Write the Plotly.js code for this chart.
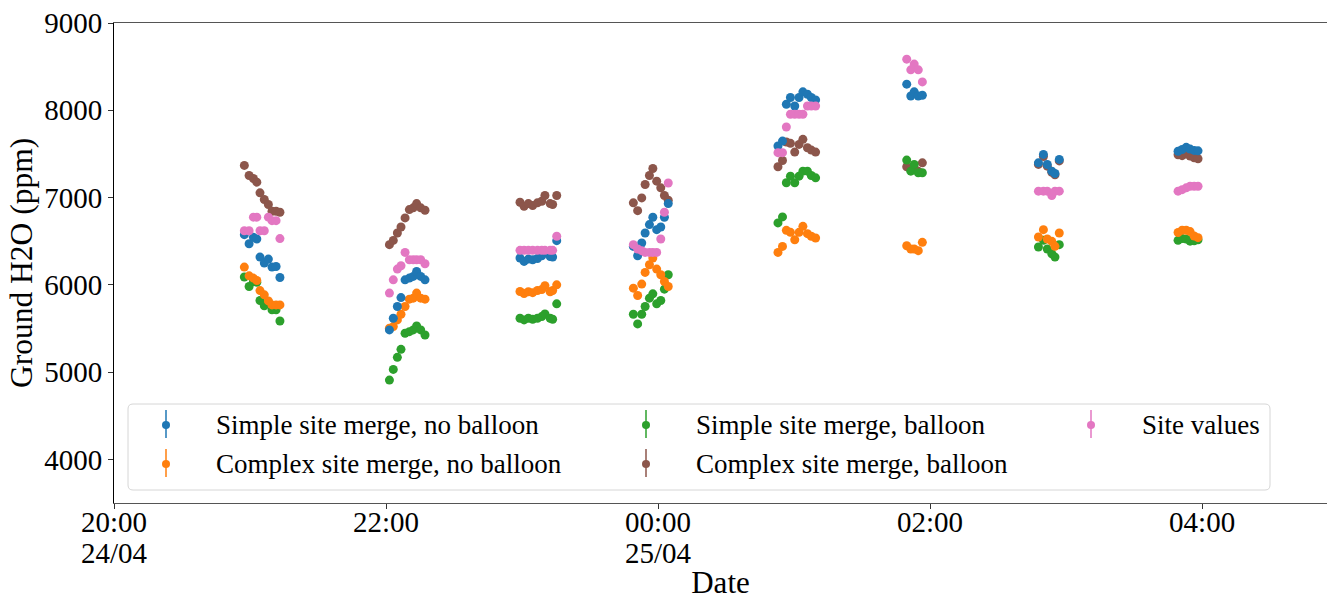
<!DOCTYPE html>
<html>
<head>
<meta charset="utf-8">
<script src="https://cdn.plot.ly/plotly-3.0.1.min.js"></script>
<style>
  html, body { margin: 0; padding: 0; background: #fff; }
  #chart { width: 1327px; height: 600px; }
</style>
</head>
<body>
<div id="chart"></div>
<script>
// Sampling times, grouped by flight window
const times = [
  '2023-04-24 20:57:30','2023-04-24 20:59:36','2023-04-24 21:01:30','2023-04-24 21:03:00','2023-04-24 21:04:24',
  '2023-04-24 21:06:18','2023-04-24 21:08:06','2023-04-24 21:09:42','2023-04-24 21:11:30','2023-04-24 21:13:12',
  '2023-04-24 22:01:30','2023-04-24 22:03:12','2023-04-24 22:05:00','2023-04-24 22:06:36','2023-04-24 22:08:24',
  '2023-04-24 22:10:18','2023-04-24 22:12:00','2023-04-24 22:13:30','2023-04-24 22:15:18','2023-04-24 22:17:12',
  '2023-04-24 22:59:06','2023-04-24 23:00:54','2023-04-24 23:02:48','2023-04-24 23:04:42','2023-04-24 23:06:48',
  '2023-04-24 23:08:42','2023-04-24 23:10:06','2023-04-24 23:12:24','2023-04-24 23:13:30','2023-04-24 23:15:18',
  '2023-04-24 23:49:06','2023-04-24 23:51:00','2023-04-24 23:52:48','2023-04-24 23:54:18','2023-04-24 23:56:12',
  '2023-04-24 23:57:42','2023-04-24 23:59:24','2023-04-25 00:01:12','2023-04-25 00:02:48','2023-04-25 00:04:30',
  '2023-04-25 00:52:54','2023-04-25 00:54:54','2023-04-25 00:56:36','2023-04-25 00:58:24','2023-04-25 01:00:18',
  '2023-04-25 01:02:12','2023-04-25 01:03:54','2023-04-25 01:05:54','2023-04-25 01:07:36','2023-04-25 01:09:30',
  '2023-04-25 01:49:42','2023-04-25 01:51:30','2023-04-25 01:53:00','2023-04-25 01:54:48','2023-04-25 01:56:36',
  '2023-04-25 02:47:48','2023-04-25 02:50:00','2023-04-25 02:51:42','2023-04-25 02:53:42','2023-04-25 02:55:06','2023-04-25 02:57:00',
  '2023-04-25 03:49:24','2023-04-25 03:51:12','2023-04-25 03:53:00','2023-04-25 03:54:42','2023-04-25 03:56:30','2023-04-25 03:58:12'
];

// Ground H2O (ppm) for each merge method
const simpleNoBalloon = [
  6575, 6471, 6544, 6525, 6318, 6249, 6295, 6203, 6210, 6084,
  5483, 5617, 5751, 5854, 6057, 6077, 6096, 6153, 6096, 6057,
  6307, 6268, 6295, 6287, 6302, 6333, 6383, 6325, 6318, 6506,
  6440, 6333, 6479, 6594, 6690, 6774, 6632, 6663, 6774, 6931,
  7590, 7647, 8069, 8146, 8049, 8146, 8211, 8184, 8146, 8119,
  8299, 8164, 8211, 8164, 8172,
  7398, 7494, 7379, 7302, 7276, 7437,
  7530, 7550, 7575, 7555, 7540, 7535
];
const complexNoBalloon = [
  6203, 6103, 6077, 6049, 5934, 5885, 5816, 5770, 5770, 5770,
  5502, 5521, 5598, 5663, 5751, 5836, 5847, 5905, 5847, 5836,
  5923, 5900, 5920, 5910, 5935, 5945, 5990, 5920, 5935, 6000,
  5962, 5877, 6008, 6142, 6230, 6307, 6180, 6115, 6038, 5981,
  6371, 6440, 6624, 6601, 6517, 6601, 6670, 6586, 6556, 6537,
  6448, 6410, 6410, 6391, 6487,
  6548, 6632, 6525, 6498, 6441, 6594,
  6600, 6625, 6625, 6610, 6560, 6540
];
const simpleBalloon = [
  6089, 5981, 6038, 6030, 5820, 5759, 5797, 5713, 5713, 5586,
  4908, 5031, 5169, 5261, 5445, 5463, 5483, 5529, 5483, 5425,
  5617, 5598, 5617, 5605, 5617, 5636, 5667, 5617, 5605, 5782,
  5663, 5552, 5663, 5751, 5847, 5897, 5782, 5820, 5950, 6115,
  6709, 6778, 7169, 7245, 7169, 7245, 7302, 7302, 7253, 7226,
  7429, 7302, 7379, 7284, 7284,
  6433, 6510, 6410, 6356, 6318, 6460,
  6510, 6530, 6525, 6500, 6505, 6515
];
const complexBalloon = [
  7368, 7253, 7218, 7176, 7054, 6977, 6920, 6843, 6843, 6831,
  6460, 6509, 6594, 6663, 6767, 6862, 6882, 6931, 6882, 6854,
  6946, 6900, 6931, 6908, 6939, 6958, 7023, 6931, 6920, 7023,
  6939, 6850, 6996, 7149, 7253, 7333, 7188, 7111, 7023, 6969,
  7353, 7425, 7636, 7621, 7521, 7609, 7667, 7571, 7544, 7521,
  7353, 7330, 7340, 7300, 7398,
  7380, 7470, 7360, 7290, 7260, 7420,
  7490, 7480, 7500, 7475, 7455, 7445
];
const siteValues = [
  6620, 6620, 6775, 6775, 6620, 6620, 6775, 6735, 6735, 6530,
  5905, 6057, 6180, 6218, 6371, 6287, 6287, 6287, 6287, 6241,
  6395, 6395, 6395, 6395, 6395, 6395, 6395, 6395, 6395, 6556,
  6460, 6410, 6391, 6371, 6371, 6371, 6371, 6525, 6831, 7167,
  7514, 7514, 7808, 7954, 7954, 7954, 7954, 8049, 8049, 8049,
  8586, 8463, 8529, 8463, 8325,
  7073, 7073, 7073, 7023, 7073, 7073,
  7073, 7090, 7111, 7130, 7130, 7130
];

const tickDates = ['2023-04-24 20:00', '2023-04-24 22:00', '2023-04-25 00:00', '2023-04-25 02:00', '2023-04-25 04:00'];
const tickLabels = ['20:00', '22:00', '00:00', '02:00', '04:00'];
// day labels shown under the first tick of each day
const dayTicks = ['2023-04-24 20:00', '2023-04-25 00:00'];
const dayLabels = ['24/04', '25/04'];
const yTicks = [4000, 5000, 6000, 7000, 8000, 9000];

const series = [
  { name: 'Simple site merge, no balloon', y: simpleNoBalloon, color: '#1f77b4' },
  { name: 'Complex site merge, no balloon', y: complexNoBalloon, color: '#ff7f0e' },
  { name: 'Simple site merge, balloon', y: simpleBalloon, color: '#2ca02c' },
  { name: 'Complex site merge, balloon', y: complexBalloon, color: '#8c564b' },
  { name: 'Site values', y: siteValues, color: '#e377c2' }
];

const FONT = 'Liberation Serif, Times New Roman, serif';
const W = 1327, H = 600;
const M = { l: 114, r: 0, t: 23, b: 97 };
const px = x => (x - M.l) / (W - M.l - M.r);
const py = y => (H - M.b - y) / (H - M.t - M.b);

// draw order: brown, green, orange, blue, pink on top
const drawOrder = [3, 2, 1, 0, 4];
const traces = drawOrder.map(i => ({
  type: 'scatter',
  mode: 'markers',
  name: series[i].name,
  x: times,
  y: series[i].y,
  marker: { color: series[i].color, size: 9, line: { width: 0 } },
  showlegend: false,
  hoverinfo: 'x+y+name'
}));

// Legend panel: three columns, filled column by column
const shapes = [];
const annotations = [];
const lx0 = 128, lx1 = 1270, ly0 = 404, ly1 = 490, rr = 5;
shapes.push({
  type: 'path', xref: 'paper', yref: 'paper',
  path: `M ${px(lx0 + rr)} ${py(ly0)} L ${px(lx1 - rr)} ${py(ly0)} Q ${px(lx1)} ${py(ly0)} ${px(lx1)} ${py(ly0 + rr)} ` +
        `L ${px(lx1)} ${py(ly1 - rr)} Q ${px(lx1)} ${py(ly1)} ${px(lx1 - rr)} ${py(ly1)} ` +
        `L ${px(lx0 + rr)} ${py(ly1)} Q ${px(lx0)} ${py(ly1)} ${px(lx0)} ${py(ly1 - rr)} ` +
        `L ${px(lx0)} ${py(ly0 + rr)} Q ${px(lx0)} ${py(ly0)} ${px(lx0 + rr)} ${py(ly0)} Z`,
  fillcolor: 'rgba(255,255,255,0.8)',
  line: { color: '#d6d6d6', width: 1 },
  layer: 'above'
});
const slots = [
  { mx: 166, tx: 214, cy: 425 },
  { mx: 166, tx: 214, cy: 464 },
  { mx: 646, tx: 694, cy: 425 },
  { mx: 646, tx: 694, cy: 464 },
  { mx: 1091, tx: 1140, cy: 425 }
];
series.forEach((s, i) => {
  const sl = slots[i];
  shapes.push({
    type: 'line', xref: 'paper', yref: 'paper',
    x0: px(sl.mx), x1: px(sl.mx), y0: py(sl.cy - 15), y1: py(sl.cy + 13),
    line: { color: s.color, width: 1.5 }, layer: 'above'
  });
  shapes.push({
    type: 'circle', xref: 'paper', yref: 'paper',
    xsizemode: 'pixel', ysizemode: 'pixel',
    xanchor: px(sl.mx), yanchor: py(sl.cy),
    x0: -4, x1: 4, y0: -4, y1: 4,
    fillcolor: s.color, line: { width: 0 }, layer: 'above'
  });
  annotations.push({
    xref: 'paper', yref: 'paper', x: px(sl.tx), y: py(sl.cy),
    xanchor: 'left', yanchor: 'middle', showarrow: false,
    text: s.name, font: { family: FONT, size: 27, color: '#000' }
  });
});

// second line of the date tick labels
dayTicks.forEach((d, i) => {
  annotations.push({
    xref: 'x', yref: 'paper', x: d, y: py(553),
    xanchor: 'center', yanchor: 'middle', showarrow: false,
    text: dayLabels[i], font: { family: FONT, size: 29, color: '#000' }
  });
});

const layout = {
  width: W, height: H,
  margin: M,
  paper_bgcolor: '#fff', plot_bgcolor: '#fff',
  font: { family: FONT, color: '#000' },
  showlegend: false,
  xaxis: {
    type: 'date',
    range: ['2023-04-24 20:00', '2023-04-25 04:55:06'],
    tickmode: 'array', tickvals: tickDates, ticktext: tickLabels,
    tickfont: { family: FONT, size: 29, color: '#000' },
    ticks: 'outside', ticklen: 5, tickwidth: 1, tickcolor: '#333',
    ticklabelstandoff: -12,
    showline: true, linecolor: '#555', linewidth: 1, mirror: true,
    showgrid: false, zeroline: false,
    title: { text: 'Date', font: { family: FONT, size: 31, color: '#000' }, standoff: 37 },
    automargin: false
  },
  yaxis: {
    range: [3500, 9000],
    tickmode: 'array', tickvals: yTicks,
    tickfont: { family: FONT, size: 29, color: '#000' },
    ticks: 'outside', ticklen: 5, tickwidth: 1, tickcolor: '#333',
    showline: true, linecolor: '#000', linewidth: 1,
    showgrid: false, zeroline: false,
    title: { text: 'Ground H2O (ppm)', font: { family: FONT, size: 31.5, color: '#000' }, standoff: 2 },
    automargin: false
  },
  shapes: shapes,
  annotations: annotations
};

Plotly.newPlot('chart', traces, layout, { displayModeBar: false, staticPlot: false });
</script>
</body>
</html>
